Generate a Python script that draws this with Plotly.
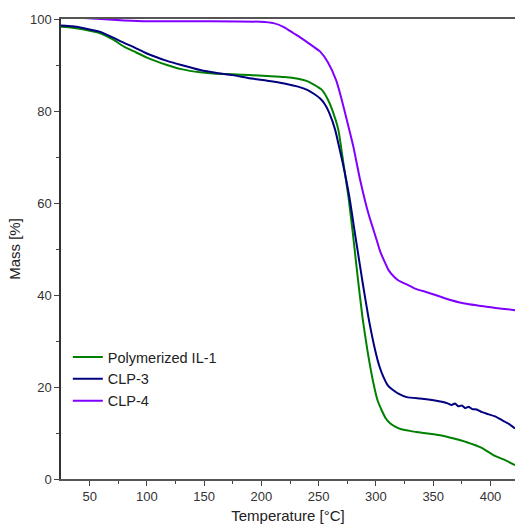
import plotly.graph_objects as go

# Polymerized IL-1
t_il1 = [25, 35, 45, 59.3, 70, 80, 88.4, 100, 117.5, 130, 146.6, 160, 175, 190, 205, 220, 232, 240, 245.4, 252.8, 258, 262.9, 267.2, 271.6, 276, 279.5, 282.4, 284.7, 288.2, 292.5, 297.8, 301.5, 305.1, 308.5, 312.3, 318, 322, 326.9, 335, 345, 356, 368, 379.3, 392, 402.5, 412, 421.4]
m_il1 = [98.3, 98.1, 97.7, 96.9, 95.6, 94.0, 93.0, 91.6, 90.0, 89.1, 88.4, 88.1, 88.0, 87.8, 87.6, 87.4, 87.0, 86.5, 85.8, 84.6, 82.5, 79.5, 75.9, 68.6, 61.3, 54.1, 47.6, 42.5, 35.2, 28.0, 20.8, 17.0, 14.9, 13.2, 12.1, 11.2, 10.8, 10.6, 10.2, 9.9, 9.5, 8.8, 8.0, 6.8, 5.2, 4.2, 3.0]

# CLP-3
t_clp3 = [25, 35, 45, 59.3, 70, 80, 88.4, 100, 117.5, 130, 146.6, 160, 175, 190, 205, 220, 232, 240, 245.4, 251.3, 255.5, 259.4, 264.4, 267.8, 271.1, 276.8, 281.2, 285.3, 288.5, 293.4, 299.3, 303, 306.5, 310.5, 315.2, 320, 326.9, 338.5, 345.8, 355, 362, 366, 369, 372, 375, 378, 381, 384, 388, 392, 396.7, 404, 410, 416, 421.4]
m_clp3 = [98.6, 98.4, 98.0, 97.2, 96.0, 94.8, 93.9, 92.5, 90.9, 90.0, 88.9, 88.3, 87.8, 87.1, 86.6, 86.0, 85.3, 84.6, 83.8, 82.7, 81.4, 79.5, 75.9, 72.2, 68.6, 61.3, 54.1, 47.6, 42.5, 35.2, 28.0, 24.5, 22.2, 20.3, 19.3, 18.5, 17.8, 17.5, 17.3, 16.9, 16.5, 16.1, 16.4, 15.8, 16.0, 15.4, 15.7, 15.2, 15.1, 14.6, 14.2, 13.6, 12.8, 12.0, 11.0]

# CLP-4
t_clp4 = [25, 45, 60, 80, 100, 150, 199, 210.5, 220, 228, 233.8, 242, 251.3, 258, 265.2, 269, 273.1, 280.3, 286.2, 293.4, 300.7, 303.5, 307.4, 311, 316, 320, 326.9, 334, 345.8, 360, 376.3, 398, 421.4]
m_clp4 = [100.3, 100.2, 100.0, 99.7, 99.5, 99.5, 99.4, 99.1, 98.2, 96.9, 96.0, 94.6, 92.9, 90.6, 86.7, 83.5, 79.5, 72.2, 65.0, 57.7, 51.9, 49.6, 47.3, 45.4, 43.9, 43.1, 42.3, 41.4, 40.5, 39.3, 38.2, 37.4, 36.7]

names = ["Polymerized IL-1", "CLP-3", "CLP-4"]
colors = ["#008000", "#000080", "#8000ff"]

x_ticks = [50, 100, 150, 200, 250, 300, 350, 400]
y_ticks = [0, 20, 40, 60, 80, 100]

fig = go.Figure()
for t, m, n, c in zip([t_il1, t_clp3, t_clp4], [m_il1, m_clp3, m_clp4], names, colors):
    fig.add_trace(go.Scatter(x=t, y=m, mode="lines", name=n,
                             line=dict(color=c, width=2, shape="spline", smoothing=0.5)))

axis_font = dict(family="Liberation Sans, Arial, sans-serif", size=13, color="#333")

fig.update_layout(
    width=515, height=527,
    margin=dict(l=61, r=0, t=19, b=48),
    paper_bgcolor="white", plot_bgcolor="white",
    font=dict(family="Liberation Sans, Arial, sans-serif", size=13, color="#222"),
    showlegend=True,
    legend=dict(x=0.015, y=0.30, xanchor="left", yanchor="top",
                bgcolor="rgba(0,0,0,0)", font=dict(size=14.5, color="#222"),
                tracegroupgap=0, itemwidth=30),
)
fig.update_xaxes(
    range=[25, 421.4], tickvals=x_ticks, ticks="outside", ticklen=5, tickwidth=1.2,
    tickcolor="#444", showline=True, linecolor="#555", linewidth=1.5, mirror=True,
    showgrid=False, zeroline=False, tickfont=axis_font,
    minor=dict(tickvals=[75, 125, 175, 225, 275, 325, 375, 425], ticks="outside", ticklen=3, tickcolor="#444", showgrid=False),
    title=dict(text="Temperature [°C]", font=dict(size=15, color="#222"), standoff=7),
)
fig.update_yaxes(
    range=[0, 100], tickvals=y_ticks, ticks="outside", ticklen=5, tickwidth=1.2,
    tickcolor="#444", showline=True, linecolor="#333", linewidth=1.5,
    showgrid=False, zeroline=False, tickfont=axis_font,
    minor=dict(tickvals=[10, 30, 50, 70, 90], ticks="outside", ticklen=3, tickcolor="#444", showgrid=False),
    title=dict(text="Mass [%]", font=dict(size=15, color="#222"), standoff=6),
)

fig.write_html("out.html")
